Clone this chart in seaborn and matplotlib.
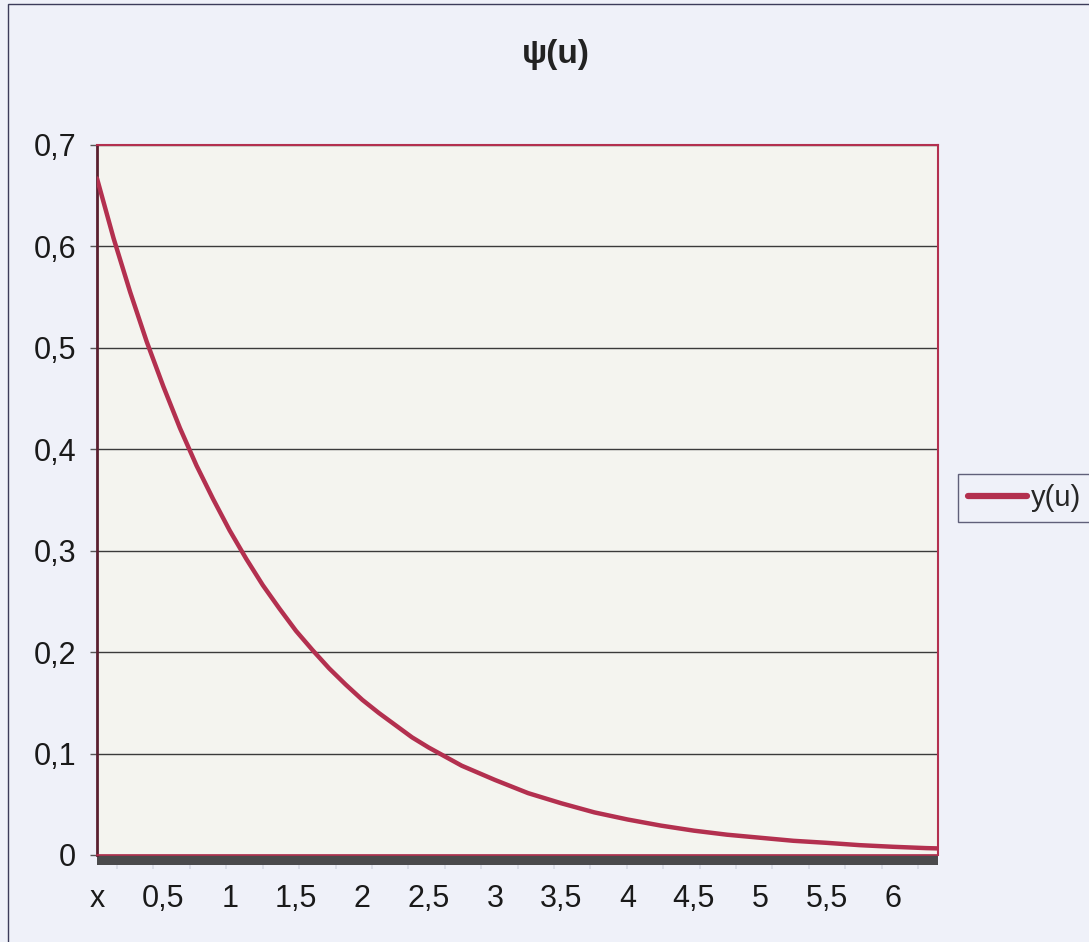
import numpy as np
import pandas as pd
import matplotlib
matplotlib.use("Agg")
import matplotlib.pyplot as plt
from matplotlib.patches import Rectangle
from matplotlib.ticker import FixedLocator, FuncFormatter
import seaborn as sns

# ---- data ----
u_values = [0.0, 0.125, 0.25, 0.375, 0.5, 0.625, 0.75, 0.875, 1.0, 1.125,
            1.25, 1.375, 1.5, 1.625, 1.75, 1.875, 2.0, 2.125, 2.25, 2.375,
            2.5, 2.625, 2.75, 2.875, 3.0, 3.25, 3.5, 3.75, 4.0, 4.25, 4.5,
            4.75, 5.0, 5.25, 5.5, 5.75, 6.0, 6.25, 6.34]
psi_values = [0.667, 0.608, 0.555, 0.506, 0.462, 0.421, 0.384, 0.351, 0.320,
              0.292, 0.266, 0.243, 0.221, 0.202, 0.184, 0.168, 0.153, 0.140,
              0.128, 0.116, 0.106, 0.097, 0.088, 0.081, 0.074, 0.061, 0.051,
              0.042, 0.035, 0.029, 0.024, 0.020, 0.017, 0.014, 0.012, 0.0097,
              0.0081, 0.0068, 0.0065]
x_tick_values = [0, 0.5, 1, 1.5, 2, 2.5, 3, 3.5, 4, 4.5, 5, 5.5, 6]
x_tick_labels = ["x", "0,5", "1", "1,5", "2", "2,5", "3", "3,5", "4", "4,5",
                 "5", "5,5", "6"]
y_tick_values = [0, 0.1, 0.2, 0.3, 0.4, 0.5, 0.6, 0.7]
series_name = "y(u)"
title_text = "ψ(u)"

df = pd.DataFrame({"u": u_values, "psi": psi_values, "series": series_name})

sns.set_theme(style="white")
plt.rcParams["font.family"] = ["Liberation Sans", "DejaVu Sans"]

W, H = 1089, 942
fig = plt.figure(figsize=(W / 100, H / 100), dpi=100)
fig.patch.set_facecolor("#eff1f9")

# outer chart frame (top and left visible)
fig.add_artist(Rectangle((8 / W, -0.05), 1.2, 1 - 4 / H + 0.05,
                         transform=fig.transFigure, fill=False,
                         edgecolor="#3c3c5a", linewidth=1.0))

left, right, top, bottom = 97, 938, 145, 855
ax = fig.add_axes([left / W, 1 - bottom / H, (right - left) / W, (bottom - top) / H])
ax.set_facecolor("#f4f4ef")

line_color = "#b3304f"
sns.lineplot(data=df, x="u", y="psi", hue="series", palette=[line_color],
             linewidth=3.2, ax=ax, legend=True, zorder=5)

ax.set_xlim(0, 6.34)
ax.set_ylim(0, 0.7)
ax.set_xlabel("")
ax.set_ylabel("")

# grid lines
ax.set_yticks(y_tick_values)
ax.yaxis.set_major_formatter(FuncFormatter(
    lambda v, p: "0" if abs(v) < 1e-9 else f"{v:.1f}".replace(".", ",")))
ax.grid(axis="y", color="#3a3a3a", linewidth=1.0)
ax.grid(axis="x", visible=False)
ax.set_axisbelow(True)

ax.set_xticks(x_tick_values)
ax.set_xticklabels(x_tick_labels)
ax.tick_params(axis="x", which="major", length=0, pad=21, labelsize=22,
               labelcolor="#1a1a1a")
ax.tick_params(axis="y", which="major", length=5, width=1, color="#555555",
               direction="out", pad=10, labelsize=22, labelcolor="#1a1a1a",
               left=True)

# dark category band under the plot with light minor ticks
ax.add_patch(Rectangle((0, -0.014), 1, 0.014, transform=ax.transAxes,
                       facecolor="#4a4a4c", edgecolor="none", clip_on=False,
                       zorder=2))
ax.xaxis.set_minor_locator(FixedLocator(np.arange(0.151, 6.34, 0.2745)))
ax.tick_params(axis="x", which="minor", length=10, width=1.2,
               color="#d8dbe6", direction="out", bottom=True)

for side in ["top", "right"]:
    ax.spines[side].set_color(line_color)
    ax.spines[side].set_linewidth(1.5)
ax.spines["left"].set_color("#5a2030")
ax.spines["left"].set_linewidth(2.0)
ax.spines["bottom"].set_color(line_color)
ax.spines["bottom"].set_linewidth(1.2)

fig.text(556 / W, 1 - 55 / H, title_text, ha="center", va="center",
         fontsize=24, fontweight="bold", color="#222222",
         family=["Liberation Sans", "DejaVu Sans"])

leg = ax.legend(loc="center left", bbox_to_anchor=(958 / W, 1 - 498 / H),
                bbox_transform=fig.transFigure, fontsize=21, frameon=True,
                fancybox=False, handlelength=2.0, handletextpad=0.15,
                borderpad=0.35, borderaxespad=0)
leg.get_frame().set_edgecolor("#3c3c5a")
leg.get_frame().set_linewidth(1.0)
leg.get_frame().set_facecolor("#eff1f9")
for h in leg.legend_handles:
    h.set_linewidth(4.5)

fig.savefig("out.png", dpi=100, facecolor=fig.get_facecolor())
